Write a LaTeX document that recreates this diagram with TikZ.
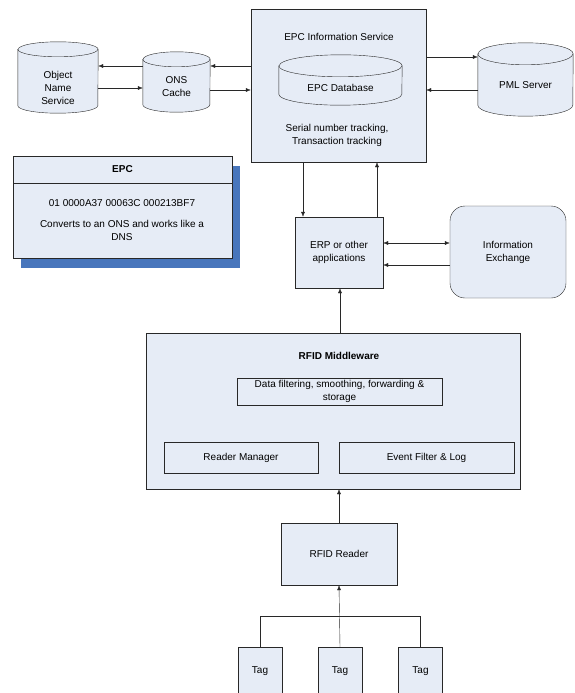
\documentclass[tikz,border=0pt]{standalone}
\usepackage{fontspec}
\setmainfont{Liberation Sans}
\usetikzlibrary{positioning, arrows.meta, shadows}
\definecolor{boxfill}{RGB}{230,236,246}
\definecolor{shadowblue}{RGB}{72,118,188}
\definecolor{linegray}{RGB}{40,40,40}

\tikzset{
    box/.style={draw=linegray, fill=boxfill, align=center, inner sep=0pt,
        font=\fontsize{10}{13}\selectfont},
    dbbody/.style={inner sep=0pt},
    txt/.style={align=center, inner sep=0pt, font=\fontsize{10}{13}\selectfont},
    arr/.style={draw=linegray, -{Latex[length=5pt,width=4pt]}},
    arrboth/.style={draw=linegray, {Latex[length=5pt,width=4pt]}-{Latex[length=5pt,width=4pt]}},
}
% cylinder drawn over a named node: name, x radius, y radius
\newcommand{\dbcyl}[3]{%
    \draw [linegray, fill=boxfill] ([yshift=-#3pt]#1.north west) -- ([yshift=#3pt]#1.south west)
        arc [start angle=180, end angle=360, x radius=#2pt, y radius=#3pt]
        -- ([yshift=-#3pt]#1.north east)
        arc [start angle=0, end angle=180, x radius=#2pt, y radius=#3pt] -- cycle;
    \draw [linegray] ([yshift=-#3pt]#1.north west)
        arc [start angle=180, end angle=360, x radius=#2pt, y radius=#3pt];
}

\begin{document}
\begin{tikzpicture}[x=1pt, y=-1pt]
            \useasboundingbox (0,0) rectangle (574,693);
            % top row
            \node [box, minimum width=175, minimum height=153] (epcis) at (338.5,85.5) {};
            \node [txt] (epcistitle) at (339,37) {EPC Information Service};
            \node [dbbody, minimum width=123, minimum height=50] (epcdb) at (340.5,80) {};
            \dbcyl{epcdb}{61.5}{11}
            \node [txt] (epcdbtext) at ([yshift=-8pt]epcdb.center) {EPC Database};
            \node [txt] (epcistrack) at (337,135) {Serial number tracking,\\Transaction tracking};
            \node [dbbody, minimum width=80, minimum height=71] (ons) at (58,77.5) {};
            \dbcyl{ons}{40}{7.5}
            \node [txt] (onstext) at ([yshift=-10.5pt]ons.center) {Object\\Name\\Service};
            \node [dbbody, minimum width=67, minimum height=60] (cache) at (176.5,82) {};
            \dbcyl{cache}{33.5}{7.5}
            \node [txt] (cachetext) at ([yshift=-5pt]cache.center) {ONS\\Cache};
            \node [dbbody, minimum width=95, minimum height=73] (pml) at (525.5,79.5) {};
            \dbcyl{pml}{47.5}{11}
            \node [txt] (pmltext) at ([yshift=-5.5pt]pml.center) {PML Server};
            \draw [arr] (cache.west |- 0,66) -- (ons.east |- 0,66);
            \draw [arr] (ons.east |- 0,88) -- (cache.west |- 0,88);
            \draw [arr] (epcis.west |- 0,66) -- (cache.east |- 0,66);
            \draw [arr] (cache.east |- 0,90) -- (epcis.west |- 0,90);
            \draw [arr] (epcis.east |- 0,57) -- (pml.west |- 0,57);
            \draw [arr] (pml.west |- 0,90) -- (epcis.east |- 0,90);
            % EPC card
            \node [box, minimum width=219, minimum height=102,
                drop shadow={shadow xshift=8pt, shadow yshift=-10pt, fill=shadowblue, opacity=1}] (epc) at (122.5,207) {};
            \node [box, anchor=north, minimum width=219, minimum height=27, font=\fontsize{10}{13}\selectfont\bfseries] (epchead) at (epc.north) {EPC};
            \node [txt] (epccode) at (122,203) {01 0000A37 00063C 000213BF7};
            \node [txt] (epcnote) at (122,230) {Converts to an ONS and works like a\\DNS};
            % applications
            \node [box, minimum width=88, minimum height=71] (erp) at (339,252.5) {ERP or other\\applications};
            \node [box, rounded corners=15, minimum width=116, minimum height=92] (info) at (508,252) {Information\\Exchange};
            \draw [arr] (epcis.south -| 303,0) -- (erp.north -| 303,0);
            \draw [arr] (erp.north -| 377,0) -- (epcis.south -| 377,0);
            \draw [arrboth] (erp.east |- 0,243) -- (info.west |- 0,243);
            \draw [arr] (info.west |- 0,265) -- (erp.east |- 0,265);
            % middleware
            \node [box, minimum width=374, minimum height=156] (mw) at (333,411) {};
            \node [txt, font=\fontsize{10}{13}\selectfont\bfseries] (mwtitle) at (339,356) {RFID Middleware};
            \node [box, minimum width=205, minimum height=27] (filter) at (339.5,391.5) {Data filtering, smoothing, forwarding \&\\storage};
            \node [box, minimum width=154, minimum height=31] (manager) at (241,457.5) {Reader Manager};
            \node [box, minimum width=175, minimum height=31] (eventlog) at (426.5,457.5) {Event Filter \& Log};
            \draw [arr] (mw.north -| 340,0) -- (erp.south -| 340,0);
            % reader and tags
            \node [box, minimum width=116, minimum height=62] (reader) at (339,554) {RFID Reader};
            \draw [arr] (reader.north) -- (mw.south -| reader.north);
            \foreach \name/\x in {tagl/260, tagm/340, tagr/420.5}
                \node [box, minimum width=44, minimum height=48] (\name) at (\x,671) {Tag};
            \draw [linegray] (tagl.north) -- (tagl.north |- 0,616) -- (tagr.north |- 0,616) -- (tagr.north);
            \draw [arr] (tagm.north) -- (reader.south);
\end{tikzpicture}
\end{document}
